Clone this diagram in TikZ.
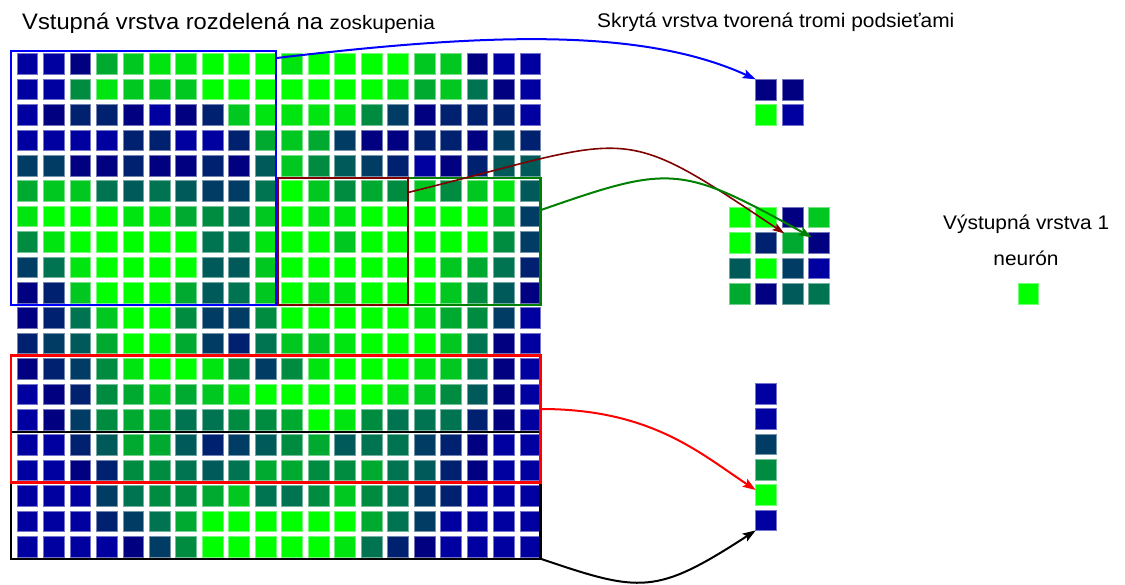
\documentclass[tikz,border=0pt]{standalone}
\usepackage{fontspec}
\setmainfont{Liberation Sans}[FakeStretch=1.06]
\usetikzlibrary{arrows.meta,calc}

% activation shades, from blue (low) to green (high)
\definecolor{L0}{RGB}{0,0,160}
\definecolor{L1}{RGB}{0,0,128}
\definecolor{L2}{RGB}{0,32,112}
\definecolor{L3}{RGB}{0,60,100}
\definecolor{L4}{RGB}{0,90,90}
\definecolor{L5}{RGB}{0,115,80}
\definecolor{L6}{RGB}{0,140,64}
\definecolor{L7}{RGB}{0,170,48}
\definecolor{L8}{RGB}{0,200,32}
\definecolor{L9}{RGB}{0,228,16}
\definecolor{L10}{RGB}{0,255,0}
\definecolor{dred}{RGB}{128,0,0}
\definecolor{dgreen}{RGB}{0,128,0}

\tikzset{
  cell/.style={rectangle, inner sep=0, outer sep=0, minimum width=20.7pt,
    minimum height=20.6pt, fill=L#1, draw=L#1!55!white, line width=0.6pt},
  grp/.style={rectangle, inner sep=0, outer sep=0, anchor=north west,
    draw=#1, line width=2.4pt},
  link/.style={draw=#1, line width=2pt,
    -{Stealth[length=13pt,width=9pt,inset=2.5pt]}},
  thin link/.style={draw=#1, line width=1.6pt,
    -{Stealth[length=12pt,width=8pt,inset=2.5pt]}},
  lbl/.style={inner sep=0, font=\fontsize{19.7pt}{22pt}\selectfont},
}

\begin{document}
\begin{tikzpicture}[x=1pt, y=-1pt]
\useasboundingbox (0,0) rectangle (1125,584);

% input layer, 20 x 20 neurons
\foreach \rw [count=\r] in {
  {0,0,1,7,8,9,9,10,10,10,9,10,10,10,10,8,8,1,0,0},
  {0,0,6,9,8,8,8,10,10,10,10,10,10,10,9,7,8,5,1,0},
  {0,1,2,2,1,0,1,2,8,9,9,9,9,6,3,1,2,2,2,0},
  {0,0,0,0,2,2,0,0,2,7,8,7,3,1,1,2,2,1,3,2},
  {3,3,1,1,2,1,1,2,1,4,8,6,4,3,2,0,1,2,4,4},
  {7,8,8,5,4,5,4,3,3,5,10,8,6,7,6,8,6,8,9,4},
  {9,10,10,10,9,9,7,6,5,8,10,9,9,10,10,10,10,10,8,3},
  {6,9,10,10,10,10,10,5,5,9,10,10,8,10,10,10,10,10,6,3},
  {3,5,9,10,10,10,10,4,4,8,10,10,10,10,10,10,8,7,5,2},
  {1,2,8,10,10,10,7,4,5,8,10,9,9,10,10,10,8,6,4,1},
  {1,2,5,8,10,10,6,3,3,6,10,10,10,10,10,9,7,6,3,0},
  {2,3,4,7,10,10,7,3,2,5,8,8,9,10,10,10,8,5,1,0},
  {1,2,3,6,9,10,10,9,6,3,6,9,10,10,10,9,8,5,1,0},
  {0,1,2,6,7,8,7,8,9,10,10,10,10,10,9,8,6,4,1,0},
  {0,1,3,6,7,7,5,5,6,6,7,10,9,6,5,5,5,2,1,0},
  {0,0,2,4,7,7,4,2,3,4,6,7,4,5,5,3,2,1,0,0},
  {0,0,1,2,6,6,5,4,5,7,7,6,6,7,5,4,2,1,0,0},
  {0,0,0,3,5,6,6,7,8,5,5,6,8,6,5,3,2,0,0,0},
  {0,0,0,2,3,5,7,10,10,10,10,10,10,7,5,3,0,0,0,0},
  {0,0,0,0,1,3,6,10,10,10,10,10,9,5,2,1,0,0,0,0}}
  \foreach \lv [count=\c] in \rw
    \node[cell=\lv] (g-\r-\c) at ({27.25+(\c-1)*26.48},{64+(\r-1)*25.4}) {};

% receptive fields of the three subnetworks
\node[grp=blue,   minimum width=264.8pt, minimum height=254pt] (bxblue)  at (10.9,50.7) {};
\node[grp=dgreen, minimum width=262.8pt, minimum height=127pt] (bxgreen) at (277.7,177.7) {};
\node[grp=dred,   minimum width=130.4pt, minimum height=127pt] (bxdred)  at (277.7,177.7) {};
\node[grp=black,  minimum width=529.6pt, minimum height=127pt] (bxblack) at (10.9,431.7) {};
\node[grp=red,    minimum width=529.6pt, minimum height=127pt] (bxred)   at (10.9,355.5) {};

% hidden layer: 2 x 2, 4 x 4 and 6 x 1 subnetworks
\foreach \rw [count=\r] in {{1,1},{10,0}}
  \foreach \lv [count=\c] in \rw
    \node[cell=\lv] (a-\r-\c) at ({766.05+(\c-1)*26.48},{89.6+(\r-1)*25.4}) {};
\foreach \rw [count=\r] in {{10,10,1,8},{10,2,7,1},{4,10,3,0},{7,1,4,5}}
  \foreach \lv [count=\c] in \rw
    \node[cell=\lv] (b-\r-\c) at ({739.65+(\c-1)*26.48},{217.3+(\r-1)*25.4}) {};
\foreach \lv [count=\r] in {0,0,3,6,10,0}
  \node[cell=\lv] (v-\r) at (766.05,{393.6+(\r-1)*25.3}) {};

% output layer
\node[cell=10] (out) at (1028.35,293.5) {};

% titles
\begin{scope}
  \clip (0,0) rectangle (1125,32.3);
  \node[inner sep=0, anchor=base west, font=\fontsize{22.4pt}{24pt}\selectfont]
    (intitle) at (22,29.5)
    {Vstupná vrstva rozdelená na {\fontsize{19.6pt}{22pt}\selectfont zoskupenia}};
\end{scope}
\node[lbl, anchor=base west] (hidtitle) at (597,27.3) {Skrytá vrstva tvorená tromi podsieťami};
\node[lbl, anchor=base west] (outtitle) at (943,229.3) {Výstupná vrstva 1};
\node[lbl, anchor=base] (outunit) at (1026,265.3) {neurón};

% connections from the fields to the hidden neurons
\draw[link=blue] ($(bxblue.north east)+(1,7.3)$)
  .. controls +(203,-24) and +(-116,-53) .. (a-1-1.north west);
\draw[thin link=dred] ($(bxdred.north east)+(-1,15)$)
  .. controls +(230,-56.6) and +(-170,-114) .. ($(b-2-3.north west)+(2,1)$);
\draw[link=dgreen] ($(bxgreen.north east)+(0.5,32.3)$)
  .. controls +(130,-45.5) and +(-131,-72.5) .. ($(b-2-4.north west)+(3,5)$);
\draw[link=red] ($(bxred.east)+(0.5,-10)$)
  .. controls +(110,0) and +(-56,-37) .. ($(v-5.north west)+(0,5.5)$);
\draw[link=black] (bxblack.south east)
  .. controls +(100,34) and +(-100,65) .. (v-6.south west);
\end{tikzpicture}
\end{document}
